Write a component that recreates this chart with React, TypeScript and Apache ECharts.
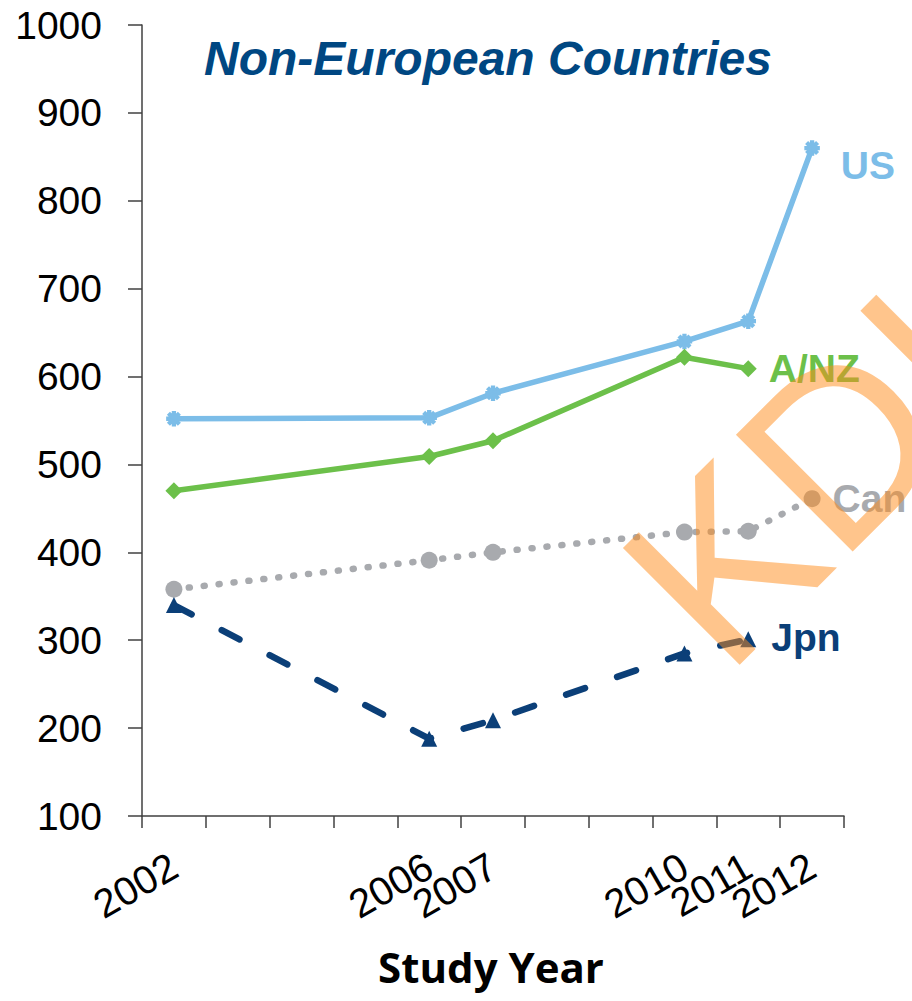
import React, { useEffect, useRef } from 'react';
import * as echarts from 'echarts';

const categories = ['2002', '2003', '2004', '2005', '2006', '2007', '2008', '2009', '2010', '2011', '2012'];
const labeledYears = ['2002', '2006', '2007', '2010', '2011', '2012'];

const usYears = ['2002', '2006', '2007', '2010', '2011', '2012'];
const usValues = [552, 553, 581, 640, 663, 860];
const anzYears = ['2002', '2006', '2007', '2010', '2011'];
const anzValues = [470, 509, 527, 622, 609];
const canYears = ['2002', '2006', '2007', '2010', '2011', '2012'];
const canValues = [358, 391, 400, 423, 424, 461];
const jpnYears = ['2002', '2006', '2007', '2010', '2011'];
const jpnValues = [340, 188, 209, 285, 301];

const yMin = 100;
const yMax = 1000;
const yInterval = 100;

const titleText = 'Non-European Countries';
const axisTitle = 'Study Year';
const watermark = 'KDI';

const FONT = "'Liberation Sans', Arial, sans-serif";

const usColor = '#7CBDE8';
const anzColor = '#6CC04A';
const canColor = '#A8AAAE';
const jpnColor = '#0B3F78';

const starPath =
  'path://M-1,-5 L1,-5 L1,-1 L5,-1 L5,1 L1,1 L1,5 L-1,5 L-1,1 L-5,1 L-5,-1 L-1,-1 Z ' +
  'M4.24,2.83 L2.83,4.24 L0,1.41 L-2.83,4.24 L-4.24,2.83 L-1.41,0 L-4.24,-2.83 L-2.83,-4.24 L0,-1.41 L2.83,-4.24 L4.24,-2.83 L1.41,0 Z';

function buildData(years: string[], values: number[], name: string, color: string, distance: number, offset: number[]) {
  return years.map((y, i) => {
    const item: any = { value: [y, values[i]] };
    if (i === years.length - 1) {
      item.label = {
        show: true,
        position: 'right',
        distance,
        offset,
        formatter: name,
        color,
        fontSize: 39,
        fontWeight: 'bold',
        fontFamily: FONT,
      };
    }
    return item;
  });
}

export default function App() {
  const ref = useRef<HTMLDivElement>(null);

  useEffect(() => {
    if (!ref.current) return;
    const chart = echarts.init(ref.current, null, { renderer: 'svg' });
    const option: any = {
      animation: false,
      backgroundColor: '#ffffff',
      title: {
        text: titleText,
        left: 199,
        top: 29,
        textStyle: {
          fontSize: 48,
          fontWeight: 'bold',
          fontStyle: 'italic',
          color: '#004782',
          fontFamily: FONT,
        },
      },
      grid: { left: 142, right: 68, top: 25, bottom: 185, containLabel: false },
      xAxis: {
        type: 'category',
        data: categories,
        boundaryGap: true,
        axisLine: { show: true, lineStyle: { color: '#404040', width: 1.5 } },
        axisTick: { show: true, length: 12, interval: 0, lineStyle: { color: '#404040', width: 1.5 } },
        axisLabel: {
          interval: 0,
          rotate: 30,
          margin: 47,
          fontSize: 40,
          color: '#000',
          fontFamily: FONT,
          formatter: (v: string) => (labeledYears.includes(v) ? v : ''),
        },
        splitLine: { show: false },
      },
      yAxis: {
        type: 'value',
        min: yMin,
        max: yMax,
        interval: yInterval,
        axisLine: { show: true, lineStyle: { color: '#404040', width: 1.5 } },
        axisTick: { show: true, length: 14, lineStyle: { color: '#404040', width: 1.5 } },
        axisLabel: {
          margin: 40,
          fontSize: 39,
          color: '#000',
          fontFamily: FONT,
          formatter: (v: number) => String(v),
        },
        splitLine: { show: false },
      },
      graphic: [
        {
          type: 'text',
          x: 491,
          y: 966,
          style: {
            text: axisTitle,
            x: 0,
            y: 0,
            align: 'center',
            verticalAlign: 'middle',
            fontSize: 42,
            fontWeight: 'bold',
            fontFamily: "'Open Sans', 'Liberation Sans', sans-serif",
            fill: '#000',
          },
        },
        {
          type: 'text',
          x: 667,
          y: 620,
          rotation: Math.PI / 4,
          z: 100,
          silent: true,
          style: {
            text: watermark,
            x: 0,
            y: 0,
            align: 'left',
            verticalAlign: 'middle',
            fontSize: 240,
            fontFamily: FONT,
            fill: '#FF8C1A',
            opacity: 0.5,
          },
        },
      ],
      series: [
        {
          name: 'US',
          type: 'line',
          data: buildData(usYears, usValues, 'US', usColor, 21, [0, 17]),
          symbol: starPath,
          symbolSize: 14,
          lineStyle: { color: usColor, width: 5.5 },
          itemStyle: { color: usColor, borderColor: usColor, borderWidth: 1.5 },
          silent: true,
        },
        {
          name: 'A/NZ',
          type: 'line',
          data: buildData(anzYears, anzValues, 'A/NZ', anzColor, 12, [0, 0]),
          symbol: 'diamond',
          symbolSize: 17,
          lineStyle: { color: anzColor, width: 5.5 },
          itemStyle: { color: anzColor, borderWidth: 0 },
          silent: true,
        },
        {
          name: 'Can',
          type: 'line',
          data: buildData(canYears, canValues, 'Can', canColor, 12, [0, 0]),
          symbol: 'circle',
          symbolSize: 17,
          lineStyle: { color: canColor, width: 6.5, type: [1, 14], cap: 'round' },
          itemStyle: { color: canColor, borderWidth: 0 },
          silent: true,
        },
        {
          name: 'Jpn',
          type: 'line',
          data: buildData(jpnYears, jpnValues, 'Jpn', jpnColor, 15, [0, -2]),
          symbol: 'triangle',
          symbolSize: 16,
          lineStyle: { color: jpnColor, width: 6.5, type: [20, 34], cap: 'round' },
          itemStyle: { color: jpnColor, borderWidth: 0 },
          silent: true,
        },
      ],
    };
    chart.setOption(option);
    return () => chart.dispose();
  }, []);

  return (
    <div
      ref={ref}
      style={{ position: 'fixed', left: 0, top: 0, width: 912, height: 1001, background: '#fff' }}
    />
  );
}
